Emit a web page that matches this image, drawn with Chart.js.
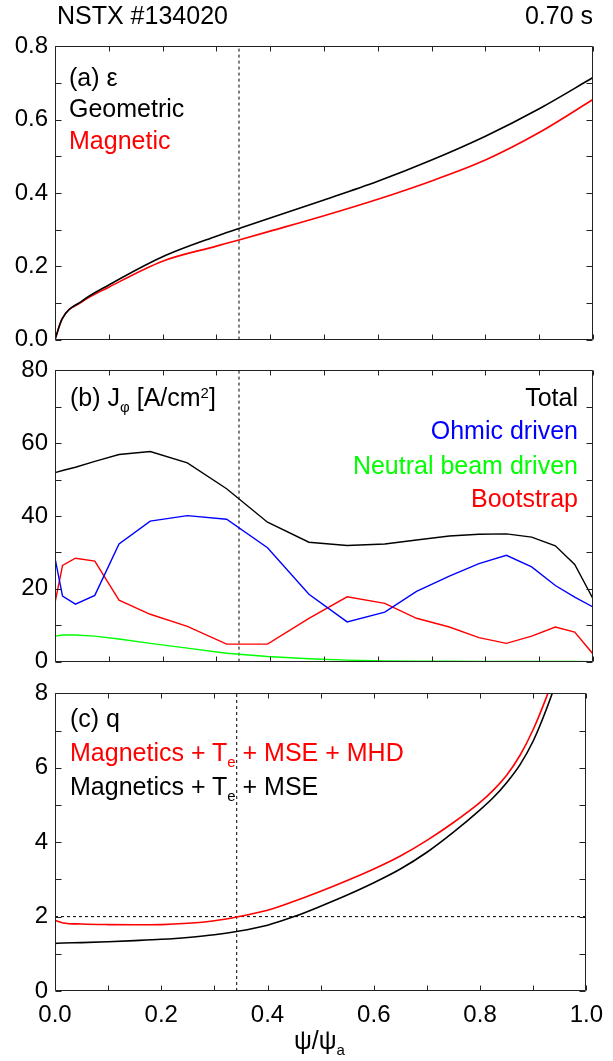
<!DOCTYPE html>
<html><head><meta charset="utf-8">
<script src="https://cdn.jsdelivr.net/npm/chart.js@4.4.1/dist/chart.umd.min.js"></script>
<style>
html,body{margin:0;padding:0;background:#fff;}
body{width:613px;height:1061px;position:relative;overflow:hidden;font-family:"Liberation Sans",Arial,sans-serif;}
canvas{position:absolute;left:0;}
.t{position:absolute;font-size:25px;line-height:24px;white-space:nowrap;color:#000;z-index:5;}
.sub{font-size:15px;position:relative;top:6px;}
.sup{font-size:15px;position:relative;top:-8px;}
</style></head><body>
<canvas id="ca" width="613" height="336" style="top:25px"></canvas>
<canvas id="cb" width="613" height="334" style="top:349px"></canvas>
<canvas id="cc" width="613" height="389" style="top:672px"></canvas>

<div class="t" style="left:57px;top:3px">NSTX #134020</div>
<div class="t" style="right:20px;top:3px">0.70 s</div>

<div class="t" style="left:69px;top:65px">(a) ε</div>
<div class="t" style="left:69px;top:96px">Geometric</div>
<div class="t" style="left:69px;top:128px;color:#ff0000">Magnetic</div>

<div class="t" style="left:70px;top:385px">(b) J<span class="sub">φ</span> [A/cm<span class="sup">2</span>]</div>
<div class="t" style="right:35px;top:385px">Total</div>
<div class="t" style="right:35px;top:418px;color:#0000ff">Ohmic driven</div>
<div class="t" style="right:35px;top:453px;color:#00ff00">Neutral beam driven</div>
<div class="t" style="right:35px;top:486px;color:#ff0000">Bootstrap</div>

<div class="t" style="left:70px;top:706px">(c) q</div>
<div class="t" style="left:70px;top:740px;color:#ff0000">Magnetics + T<span class="sub">e</span> + MSE + MHD</div>
<div class="t" style="left:70px;top:774px">Magnetics + T<span class="sub">e</span> + MSE</div>

<div class="t" style="left:294px;top:1028px">ψ/ψ<span class="sub">a</span></div>

<script>
// ---- data ----
const markerX = 0.342;
const qRational = 2;

const xEps = [0, 0.013, 0.05, 0.1, 0.2, 0.3, 0.342, 0.4, 0.5, 0.6, 0.7, 0.8, 0.9, 1.0];
const epsGeometric = [0, 0.056, 0.105, 0.149, 0.226, 0.282, 0.303, 0.332, 0.381, 0.432, 0.49, 0.555, 0.63, 0.715];
const epsMagnetic  = [0, 0.056, 0.103, 0.143, 0.214, 0.255, 0.272, 0.296, 0.338, 0.383, 0.433, 0.49, 0.565, 0.655];

const xJ = [0, 0.014, 0.038, 0.074, 0.119, 0.177, 0.246, 0.319, 0.395, 0.472, 0.543, 0.613, 0.672, 0.733, 0.788, 0.839, 0.886, 0.93, 0.966, 1.0];
const jTotal     = [51.9, 52.5, 53.4, 55.0, 56.9, 57.7, 54.6, 47.5, 38.3, 32.8, 31.9, 32.3, 33.4, 34.5, 35.0, 35.1, 34.2, 31.8, 26.7, 17.3];
const jOhmic     = [28.4, 18.0, 15.8, 18.2, 32.3, 38.6, 40.1, 39.1, 31.3, 18.5, 10.9, 13.6, 19.3, 23.5, 26.9, 29.2, 26.0, 20.9, 17.7, 15.0];
const jBeam      = [7.0, 7.3, 7.3, 7.0, 6.2, 5.0, 3.7, 2.3, 1.4, 0.8, 0.4, 0.2, 0.12, 0.08, 0.05, 0.03, 0.02, 0.01, 0.01, 0];
const jBootstrap = [16.2, 26.4, 28.4, 27.6, 16.9, 13.0, 9.7, 4.8, 4.8, 11.9, 17.8, 16.0, 11.9, 9.5, 6.6, 5.0, 7.0, 9.5, 8.1, 2.1];

const xQ = [0, 0.015, 0.05, 0.1, 0.15, 0.2, 0.25, 0.3, 0.342, 0.4, 0.45, 0.5, 0.55, 0.6, 0.65, 0.7, 0.75, 0.8, 0.825, 0.85, 0.875, 0.9, 0.925, 0.95, 1.0];
const qWithMHD = [1.90, 1.83, 1.80, 1.785, 1.78, 1.785, 1.82, 1.89, 1.99, 2.17, 2.41, 2.68, 2.97, 3.28, 3.63, 4.05, 4.53, 5.07, 5.40, 5.80, 6.33, 7.03, 7.90, 8.90, 11.5];
const qNoMHD   = [1.28, 1.29, 1.30, 1.325, 1.355, 1.39, 1.44, 1.51, 1.60, 1.77, 2.00, 2.28, 2.58, 2.91, 3.28, 3.73, 4.27, 4.87, 5.20, 5.60, 6.08, 6.72, 7.58, 8.60, 11.0];

const xTickLabels = ['0.0', '0.2', '0.4', '0.6', '0.8', '1.0'];
const epsTickLabels = ['0.0', '0.2', '0.4', '0.6', '0.8'];
const jTickLabels = ['0', '20', '40', '60', '80'];
const qTickLabels = ['0', '2', '4', '6', '8'];

// ---- helpers ----
const pts = (xs, ys) => xs.map((x, i) => ({x, y: ys[i]}));
const labelFrom = (arr) => (v) => {
  const f = arr.find(s => Math.abs(Number(s) - v) < 1e-6);
  return f === undefined ? '' : f;
};

const frame = {
  id: 'frame',
  afterDatasetsDraw(chart) {
    const {ctx, chartArea: a, scales} = chart;
    ctx.save();
    ctx.strokeStyle = '#222';
    ctx.lineWidth = 1;
    ctx.beginPath();
    const L = Math.round(a.left) + 0.5, R = Math.round(a.right) - 0.5;
    const T = Math.round(a.top) + 0.5, B = Math.round(a.bottom) - 0.5;
    ctx.rect(L, T, R - L, B - T);
    scales.x.ticks.forEach(t => {
      const p = Math.round(scales.x.getPixelForValue(t.value)) + 0.5;
      ctx.moveTo(p, B); ctx.lineTo(p, B - 5);
      ctx.moveTo(p, T); ctx.lineTo(p, T + 5);
    });
    scales.y.ticks.forEach(t => {
      const p = Math.round(scales.y.getPixelForValue(t.value)) + 0.5;
      ctx.moveTo(L, p); ctx.lineTo(L + 6, p);
      ctx.moveTo(R, p); ctx.lineTo(R - 6, p);
    });
    ctx.stroke();
    ctx.restore();
  }
};

const font = {family: '"Liberation Sans", Arial, sans-serif', size: 24};

function line(data, color, w, extra) {
  return Object.assign({data, borderColor: color, borderWidth: w, pointRadius: 0, fill: false, tension: 0}, extra || {});
}
function dotted(data) {
  return {data, borderColor: '#000', borderWidth: 1, borderDash: [3, 3], pointRadius: 0, fill: false, tension: 0};
}

function makeChart(id, datasets, yMin, yMax, yStep, yLabels, showX, pad) {
  return new Chart(document.getElementById(id), {
    type: 'line',
    data: {datasets},
    plugins: [frame],
    options: {
      responsive: false,
      animation: false,
      events: [],
      layout: {padding: pad},
      plugins: {legend: {display: false}, tooltip: {enabled: false}},
      scales: {
        x: {
          type: 'linear', min: 0, max: 1,
          grid: {display: false, drawTicks: false},
          border: {display: false},
          ticks: {display: showX, stepSize: 0.1, autoSkip: false, maxRotation: 0, padding: 10,
                  color: '#000', font, callback: labelFrom(xTickLabels)},
          afterFit: s => { s.height = showX ? 70 : 0; }
        },
        y: {
          type: 'linear', min: yMin, max: yMax,
          grid: {display: false, drawTicks: false},
          border: {display: false},
          ticks: {stepSize: yStep, autoSkip: false, padding: 7, color: '#000', font,
                  callback: labelFrom(yLabels)},
          afterFit: s => { s.width = 55; }
        }
      }
    }
  });
}

makeChart('ca', [
  line(pts(xEps, epsGeometric), '#000', 1.6, {cubicInterpolationMode: 'monotone'}),
  line(pts(xEps, epsMagnetic), '#ff0000', 1.6, {cubicInterpolationMode: 'monotone'}),
  dotted([{x: markerX, y: 0}, {x: markerX, y: 0.8}])
], 0, 0.8, 0.1, epsTickLabels, false, {top: 20, right: 20, bottom: 15, left: 0});

makeChart('cb', [
  line(pts(xJ, jTotal), '#000', 1.4),
  line(pts(xJ, jOhmic), '#0000ff', 1.4),
  line(pts(xJ, jBeam), '#00ff00', 1.4),
  line(pts(xJ, jBootstrap), '#ff0000', 1.4),
  dotted([{x: markerX, y: 0}, {x: markerX, y: 80}])
], 0, 80, 10, jTickLabels, false, {top: 20, right: 20, bottom: 15, left: 0});

makeChart('cc', [
  line(pts(xQ, qNoMHD), '#000', 1.6, {cubicInterpolationMode: 'monotone'}),
  line(pts(xQ, qWithMHD), '#ff0000', 1.6, {cubicInterpolationMode: 'monotone'}),
  dotted([{x: markerX, y: 0}, {x: markerX, y: 8}]),
  dotted([{x: 0, y: qRational}, {x: 1, y: qRational}])
], 0, 8, 1, qTickLabels, true, {top: 20, right: 20, bottom: 0, left: 0});
</script>
</body></html>
